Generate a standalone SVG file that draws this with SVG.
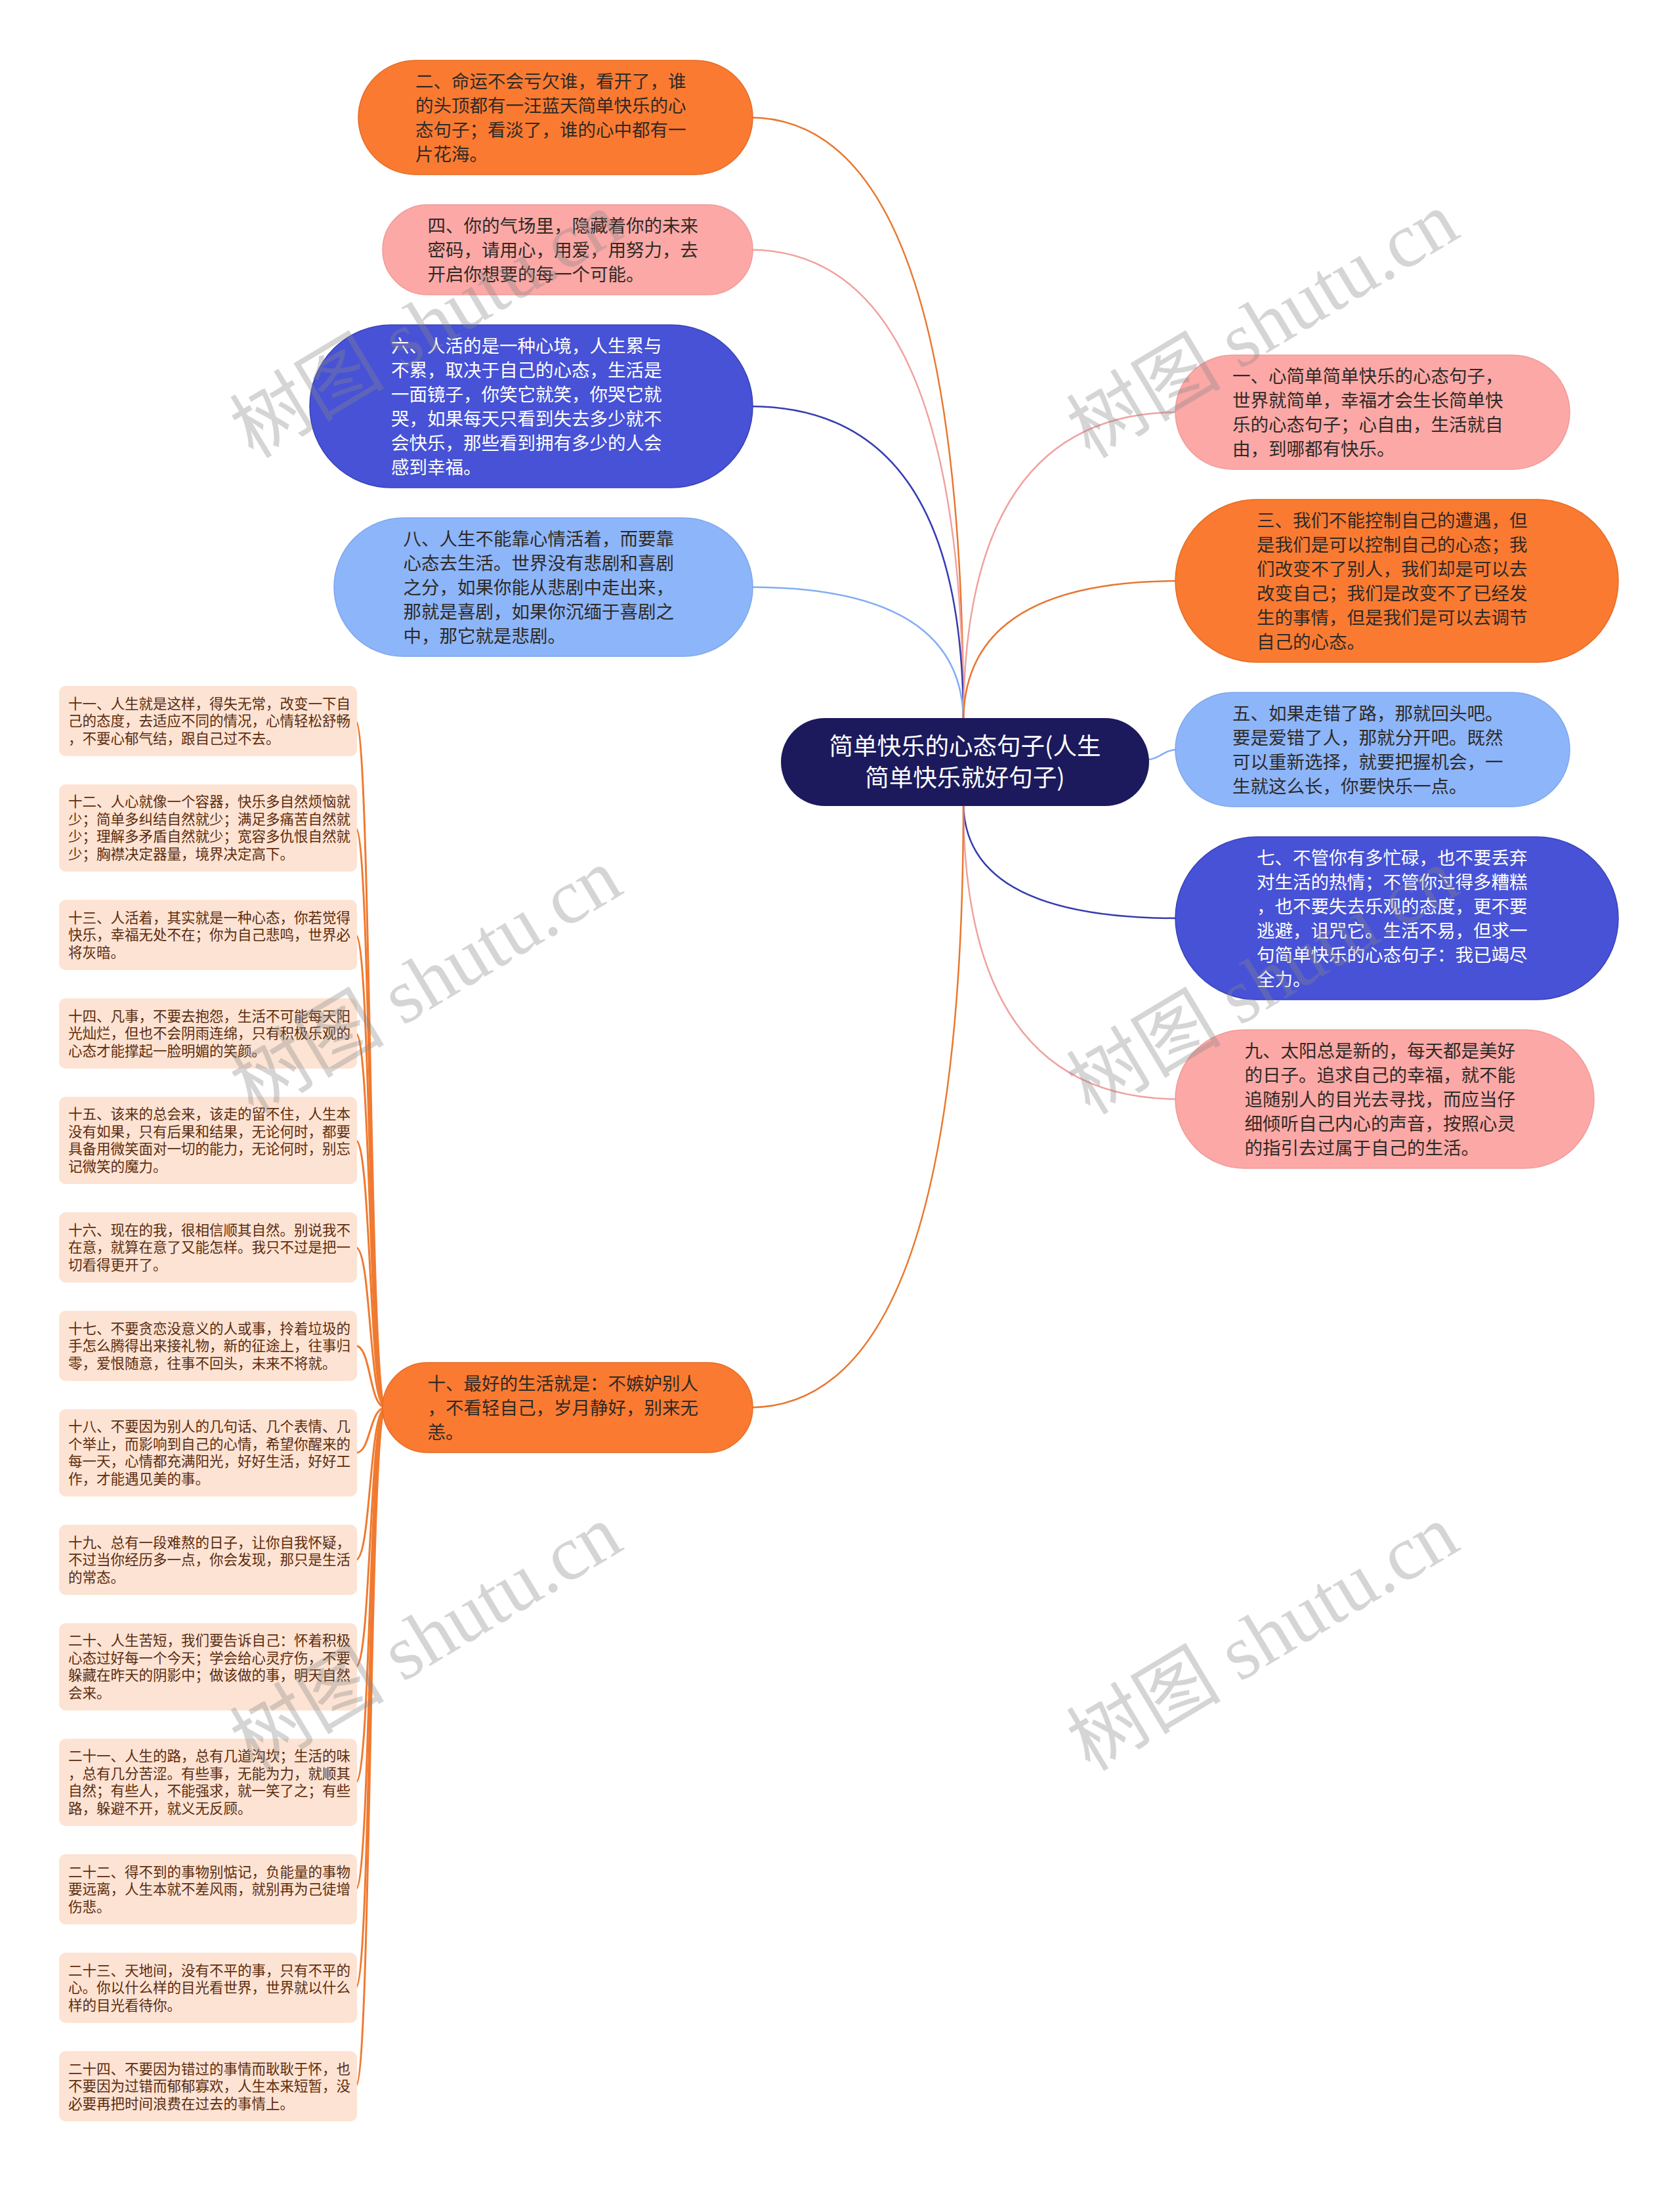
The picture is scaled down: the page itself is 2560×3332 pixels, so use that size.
<svg xmlns="http://www.w3.org/2000/svg" width="2560" height="3332" viewBox="0 0 2560 3332">
<style>
.t{font-family:"Noto Sans CJK SC","Noto Sans",sans-serif;font-size:27.5px;fill:#2f2a26}
.tw{fill:#ffffff}
.ts{font-family:"Noto Sans CJK SC","Noto Sans",sans-serif;font-size:21.5px;fill:#5b2c0f}
.tc{font-family:"Noto Sans CJK SC","Noto Sans",sans-serif;font-size:36.5px;fill:#ffffff;text-anchor:middle}
.or{fill:#fa7a31;stroke:#e46c24;stroke-width:1.5}
.pk{fill:#fba8a6;stroke:#f09a98;stroke-width:1.5}
.bl{fill:#4752d6;stroke:#3a42b8;stroke-width:1.5}
.lb{fill:#8db5fa;stroke:#7ea6ec;stroke-width:1.5}
.sm{fill:#fde3d3}
.c{fill:none;stroke-width:2.5}
.co{stroke:#e8772e}.cp{stroke:#f0a2a0}.cb{stroke:#363db0}.cl{stroke:#82aef2}
.tr{fill:none;stroke:#f07a30;stroke-width:3}
.wm{font-family:"Liberation Serif","Noto Sans CJK SC",serif;font-size:118px;fill:#888888;opacity:0.35}
</style>
<rect width="2560" height="3332" fill="#ffffff"/>
<g id="connectors">
<path class="c co" d="M1468 1100 Q1468 179 1142 179"/>
<path class="c cp" d="M1468 1100 Q1468 380.5 1142 380.5"/>
<path class="c cb" d="M1468 1100 Q1468 619 1142 619"/>
<path class="c cl" d="M1468 1100 Q1468 894.5 1142 894.5"/>
<path class="c cp" d="M1468 1100 Q1468 628 1796 628"/>
<path class="c co" d="M1468 1100 Q1468 885 1796 885"/>
<path class="c cl" d="M1740 1158 C1770 1158 1770 1142 1796 1142"/>
<path class="c cb" d="M1468 1222 Q1468 1399 1796 1399"/>
<path class="c cp" d="M1468 1222 Q1468 1674.5 1796 1674.5"/>
<path class="c co" d="M1468 1222 Q1468 2144.5 1142 2144.5"/>
<path class="tr" d="M588 2144.5 C562 2144.5 566 1098.5 542 1098.5"/>
<path class="tr" d="M588 2144.5 C562 2144.5 566 1261.5 542 1261.5"/>
<path class="tr" d="M588 2144.5 C562 2144.5 566 1424.5 542 1424.5"/>
<path class="tr" d="M588 2144.5 C562 2144.5 566 1574.5 542 1574.5"/>
<path class="tr" d="M588 2144.5 C562 2144.5 566 1737.5 542 1737.5"/>
<path class="tr" d="M588 2144.5 C562 2144.5 566 1900.5 542 1900.5"/>
<path class="tr" d="M588 2144.5 C562 2144.5 566 2050.5 542 2050.5"/>
<path class="tr" d="M588 2144.5 C562 2144.5 566 2213.5 542 2213.5"/>
<path class="tr" d="M588 2144.5 C562 2144.5 566 2376.5 542 2376.5"/>
<path class="tr" d="M588 2144.5 C562 2144.5 566 2539.5 542 2539.5"/>
<path class="tr" d="M588 2144.5 C562 2144.5 566 2715.5 542 2715.5"/>
<path class="tr" d="M588 2144.5 C562 2144.5 566 2878.5 542 2878.5"/>
<path class="tr" d="M588 2144.5 C562 2144.5 566 3028.5 542 3028.5"/>
<path class="tr" d="M588 2144.5 C562 2144.5 566 3178.5 542 3178.5"/>
</g>
<g id="root">
<rect x="1190" y="1094" width="561" height="134" rx="67" fill="#1c1a5c"/>
<text class="tc"><tspan x="1470.5" y="1150">简单快乐的心态句子(人生</tspan><tspan x="1470.5" y="1198">简单快乐就好句子)</tspan></text>
</g>
<g id="n2">
<rect class="or" x="546" y="92" width="601" height="174" rx="87"/>
<text class="t"><tspan x="633" y="133.5">二、命运不会亏欠谁，看开了，谁</tspan><tspan x="633" y="170.5">的头顶都有一汪蓝天简单快乐的心</tspan><tspan x="633" y="207.5">态句子；看淡了，谁的心中都有一</tspan><tspan x="633" y="244.5">片花海。</tspan></text>
</g>
<g id="n4">
<rect class="pk" x="583" y="312" width="564" height="137" rx="68.5"/>
<text class="t"><tspan x="651.5" y="353.5">四、你的气场里，隐藏着你的未来</tspan><tspan x="651.5" y="390.5">密码，请用心，用爱，用努力，去</tspan><tspan x="651.5" y="427.5">开启你想要的每一个可能。</tspan></text>
</g>
<g id="n6">
<rect class="bl" x="472" y="495" width="675" height="248" rx="124"/>
<text class="t tw"><tspan x="596" y="536.5">六、人活的是一种心境，人生累与</tspan><tspan x="596" y="573.5">不累，取决于自己的心态，生活是</tspan><tspan x="596" y="610.5">一面镜子，你笑它就笑，你哭它就</tspan><tspan x="596" y="647.5">哭，如果每天只看到失去多少就不</tspan><tspan x="596" y="684.5">会快乐，那些看到拥有多少的人会</tspan><tspan x="596" y="721.5">感到幸福。</tspan></text>
</g>
<g id="n8">
<rect class="lb" x="509" y="789" width="638" height="211" rx="105.5"/>
<text class="t"><tspan x="614.5" y="830.5">八、人生不能靠心情活着，而要靠</tspan><tspan x="614.5" y="867.5">心态去生活。世界没有悲剧和喜剧</tspan><tspan x="614.5" y="904.5">之分，如果你能从悲剧中走出来，</tspan><tspan x="614.5" y="941.5">那就是喜剧，如果你沉缅于喜剧之</tspan><tspan x="614.5" y="978.5">中，那它就是悲剧。</tspan></text>
</g>
<g id="n10">
<rect class="or" x="583" y="2076" width="564" height="137" rx="68.5"/>
<text class="t"><tspan x="651.5" y="2117.5">十、最好的生活就是：不嫉妒别人</tspan><tspan x="651.5" y="2154.5">，不看轻自己，岁月静好，别来无</tspan><tspan x="651.5" y="2191.5">恙。</tspan></text>
</g>
<g id="n1">
<rect class="pk" x="1791" y="541" width="601" height="174" rx="87"/>
<text class="t"><tspan x="1878" y="582.5">一、心简单简单快乐的心态句子，</tspan><tspan x="1878" y="619.5">世界就简单，幸福才会生长简单快</tspan><tspan x="1878" y="656.5">乐的心态句子；心自由，生活就自</tspan><tspan x="1878" y="693.5">由，到哪都有快乐。</tspan></text>
</g>
<g id="n3">
<rect class="or" x="1791" y="761" width="675" height="248" rx="124"/>
<text class="t"><tspan x="1915" y="802.5">三、我们不能控制自己的遭遇，但</tspan><tspan x="1915" y="839.5">是我们是可以控制自己的心态；我</tspan><tspan x="1915" y="876.5">们改变不了别人，我们却是可以去</tspan><tspan x="1915" y="913.5">改变自己；我们是改变不了已经发</tspan><tspan x="1915" y="950.5">生的事情，但是我们是可以去调节</tspan><tspan x="1915" y="987.5">自己的心态。</tspan></text>
</g>
<g id="n5">
<rect class="lb" x="1791" y="1055" width="601" height="174" rx="87"/>
<text class="t"><tspan x="1878" y="1096.5">五、如果走错了路，那就回头吧。</tspan><tspan x="1878" y="1133.5">要是爱错了人，那就分开吧。既然</tspan><tspan x="1878" y="1170.5">可以重新选择，就要把握机会，一</tspan><tspan x="1878" y="1207.5">生就这么长，你要快乐一点。</tspan></text>
</g>
<g id="n7">
<rect class="bl" x="1791" y="1275" width="675" height="248" rx="124"/>
<text class="t tw"><tspan x="1915" y="1316.5">七、不管你有多忙碌，也不要丢弃</tspan><tspan x="1915" y="1353.5">对生活的热情；不管你过得多糟糕</tspan><tspan x="1915" y="1390.5">，也不要失去乐观的态度，更不要</tspan><tspan x="1915" y="1427.5">逃避，诅咒它。生活不易，但求一</tspan><tspan x="1915" y="1464.5">句简单快乐的心态句子：我已竭尽</tspan><tspan x="1915" y="1501.5">全力。</tspan></text>
</g>
<g id="n9">
<rect class="pk" x="1791" y="1569" width="638" height="211" rx="105.5"/>
<text class="t"><tspan x="1896.5" y="1610.5">九、太阳总是新的，每天都是美好</tspan><tspan x="1896.5" y="1647.5">的日子。追求自己的幸福，就不能</tspan><tspan x="1896.5" y="1684.5">追随别人的目光去寻找，而应当仔</tspan><tspan x="1896.5" y="1721.5">细倾听自己内心的声音，按照心灵</tspan><tspan x="1896.5" y="1758.5">的指引去过属于自己的生活。</tspan></text>
</g>
<g id="n11">
<rect class="sm" x="90" y="1045" width="454" height="107" rx="10"/>
<text class="ts"><tspan x="104" y="1079.5">十一、人生就是这样，得失无常，改变一下自</tspan><tspan x="104" y="1106">己的态度，去适应不同的情况，心情轻松舒畅</tspan><tspan x="104" y="1132.5">，不要心郁气结，跟自己过不去。</tspan></text>
</g>
<g id="n12">
<rect class="sm" x="90" y="1195" width="454" height="133" rx="10"/>
<text class="ts"><tspan x="104" y="1229.25">十二、人心就像一个容器，快乐多自然烦恼就</tspan><tspan x="104" y="1255.75">少；简单多纠结自然就少；满足多痛苦自然就</tspan><tspan x="104" y="1282.25">少；理解多矛盾自然就少；宽容多仇恨自然就</tspan><tspan x="104" y="1308.75">少；胸襟决定器量，境界决定高下。</tspan></text>
</g>
<g id="n13">
<rect class="sm" x="90" y="1371" width="454" height="107" rx="10"/>
<text class="ts"><tspan x="104" y="1405.5">十三、人活着，其实就是一种心态，你若觉得</tspan><tspan x="104" y="1432">快乐，幸福无处不在；你为自己悲鸣，世界必</tspan><tspan x="104" y="1458.5">将灰暗。</tspan></text>
</g>
<g id="n14">
<rect class="sm" x="90" y="1521" width="454" height="107" rx="10"/>
<text class="ts"><tspan x="104" y="1555.5">十四、凡事，不要去抱怨，生活不可能每天阳</tspan><tspan x="104" y="1582">光灿烂，但也不会阴雨连绵，只有积极乐观的</tspan><tspan x="104" y="1608.5">心态才能撑起一脸明媚的笑颜。</tspan></text>
</g>
<g id="n15">
<rect class="sm" x="90" y="1671" width="454" height="133" rx="10"/>
<text class="ts"><tspan x="104" y="1705.25">十五、该来的总会来，该走的留不住，人生本</tspan><tspan x="104" y="1731.75">没有如果，只有后果和结果，无论何时，都要</tspan><tspan x="104" y="1758.25">具备用微笑面对一切的能力，无论何时，别忘</tspan><tspan x="104" y="1784.75">记微笑的魔力。</tspan></text>
</g>
<g id="n16">
<rect class="sm" x="90" y="1847" width="454" height="107" rx="10"/>
<text class="ts"><tspan x="104" y="1881.5">十六、现在的我，很相信顺其自然。别说我不</tspan><tspan x="104" y="1908">在意，就算在意了又能怎样。我只不过是把一</tspan><tspan x="104" y="1934.5">切看得更开了。</tspan></text>
</g>
<g id="n17">
<rect class="sm" x="90" y="1997" width="454" height="107" rx="10"/>
<text class="ts"><tspan x="104" y="2031.5">十七、不要贪恋没意义的人或事，拎着垃圾的</tspan><tspan x="104" y="2058">手怎么腾得出来接礼物，新的征途上，往事归</tspan><tspan x="104" y="2084.5">零，爱恨随意，往事不回头，未来不将就。</tspan></text>
</g>
<g id="n18">
<rect class="sm" x="90" y="2147" width="454" height="133" rx="10"/>
<text class="ts"><tspan x="104" y="2181.25">十八、不要因为别人的几句话、几个表情、几</tspan><tspan x="104" y="2207.75">个举止，而影响到自己的心情，希望你醒来的</tspan><tspan x="104" y="2234.25">每一天，心情都充满阳光，好好生活，好好工</tspan><tspan x="104" y="2260.75">作，才能遇见美的事。</tspan></text>
</g>
<g id="n19">
<rect class="sm" x="90" y="2323" width="454" height="107" rx="10"/>
<text class="ts"><tspan x="104" y="2357.5">十九、总有一段难熬的日子，让你自我怀疑，</tspan><tspan x="104" y="2384">不过当你经历多一点，你会发现，那只是生活</tspan><tspan x="104" y="2410.5">的常态。</tspan></text>
</g>
<g id="n20">
<rect class="sm" x="90" y="2473" width="454" height="133" rx="10"/>
<text class="ts"><tspan x="104" y="2507.25">二十、人生苦短，我们要告诉自己：怀着积极</tspan><tspan x="104" y="2533.75">心态过好每一个今天；学会给心灵疗伤，不要</tspan><tspan x="104" y="2560.25">躲藏在昨天的阴影中；做该做的事，明天自然</tspan><tspan x="104" y="2586.75">会来。</tspan></text>
</g>
<g id="n21">
<rect class="sm" x="90" y="2649" width="454" height="133" rx="10"/>
<text class="ts"><tspan x="104" y="2683.25">二十一、人生的路，总有几道沟坎；生活的味</tspan><tspan x="104" y="2709.75">，总有几分苦涩。有些事，无能为力，就顺其</tspan><tspan x="104" y="2736.25">自然；有些人，不能强求，就一笑了之；有些</tspan><tspan x="104" y="2762.75">路，躲避不开，就义无反顾。</tspan></text>
</g>
<g id="n22">
<rect class="sm" x="90" y="2825" width="454" height="107" rx="10"/>
<text class="ts"><tspan x="104" y="2859.5">二十二、得不到的事物别惦记，负能量的事物</tspan><tspan x="104" y="2886">要远离，人生本就不差风雨，就别再为己徒增</tspan><tspan x="104" y="2912.5">伤悲。</tspan></text>
</g>
<g id="n23">
<rect class="sm" x="90" y="2975" width="454" height="107" rx="10"/>
<text class="ts"><tspan x="104" y="3009.5">二十三、天地间，没有不平的事，只有不平的</tspan><tspan x="104" y="3036">心。你以什么样的目光看世界，世界就以什么</tspan><tspan x="104" y="3062.5">样的目光看待你。</tspan></text>
</g>
<g id="n24">
<rect class="sm" x="90" y="3125" width="454" height="107" rx="10"/>
<text class="ts"><tspan x="104" y="3159.5">二十四、不要因为错过的事情而耿耿于怀，也</tspan><tspan x="104" y="3186">不要因为过错而郁郁寡欢，人生本来短暂，没</tspan><tspan x="104" y="3212.5">必要再把时间浪费在过去的事情上。</tspan></text>
</g>
<g id="watermarks">
<text class="wm" x="386" y="700" transform="rotate(-31 386 700)">树图 shutu.cn</text>
<text class="wm" x="1661" y="700" transform="rotate(-31 1661 700)">树图 shutu.cn</text>
<text class="wm" x="386" y="1700" transform="rotate(-31 386 1700)">树图 shutu.cn</text>
<text class="wm" x="1661" y="1700" transform="rotate(-31 1661 1700)">树图 shutu.cn</text>
<text class="wm" x="386" y="2700" transform="rotate(-31 386 2700)">树图 shutu.cn</text>
<text class="wm" x="1661" y="2700" transform="rotate(-31 1661 2700)">树图 shutu.cn</text>
</g>
</svg>
